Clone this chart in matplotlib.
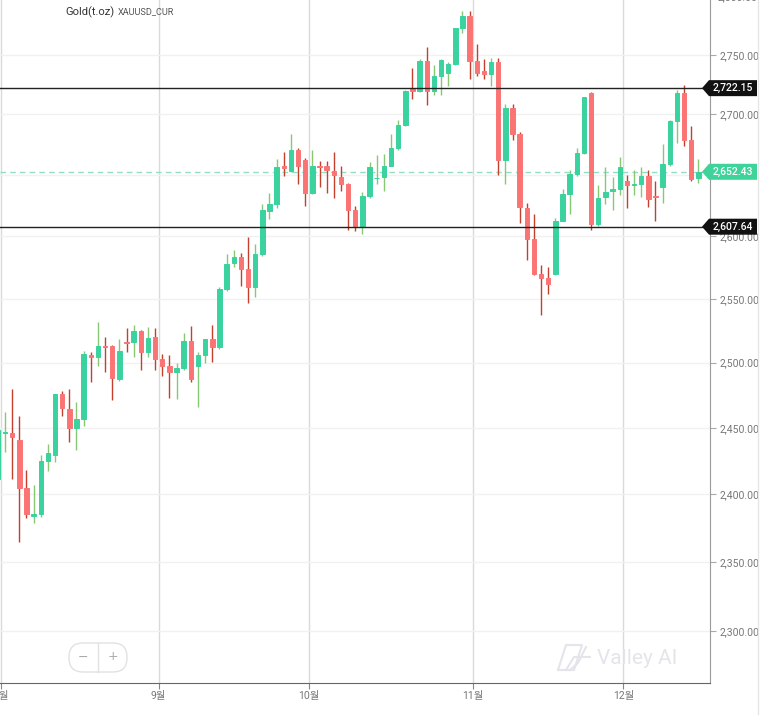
import matplotlib
matplotlib.use('Agg')
import matplotlib.pyplot as plt
import numpy as np
from matplotlib.patches import Polygon, FancyBboxPatch
from matplotlib.lines import Line2D
from matplotlib.ticker import FixedLocator, FuncFormatter, NullLocator
from matplotlib.transforms import IdentityTransform

# daily candles, 31 Jul 2024 .. 16 Dec 2024 (weekdays only)
opens = [2411, 2446, 2446, 2441, 2405, 2384, 2385, 2425, 2429, 2476,
         2464, 2450, 2457, 2506, 2504, 2513, 2513, 2487, 2516, 2516,
         2525, 2508, 2520, 2503, 2497, 2493, 2496, 2517, 2497, 2506,
         2518, 2512, 2558, 2578.5, 2583, 2574, 2559, 2586, 2620, 2626,
         2657, 2653, 2670.5, 2662, 2635, 2657, 2657, 2653, 2648, 2642,
         2621, 2608, 2632.5, 2647, 2648, 2657, 2672, 2691, 2722, 2720,
         2745, 2720, 2732, 2735, 2742.5, 2773, 2783.5, 2745, 2736.5, 2734.5,
         2744.5, 2662, 2705.5, 2684, 2623, 2598, 2569.5, 2566.5, 2570, 2612.5,
         2634, 2650.5, 2668, 2718, 2609.5, 2632, 2636.5, 2638, 2645, 2641.5,
         2642, 2649, 2632.5, 2640, 2659, 2694.5, 2718, 2679, 2647]
highs = [2455, 2462, 2480, 2459, 2418, 2407, 2429, 2438, 2476, 2478,
         2480, 2470, 2509, 2508, 2532, 2520, 2514, 2518, 2527, 2529,
         2525.5, 2528, 2527, 2507, 2506, 2500, 2523, 2528.5, 2508, 2518,
         2529, 2559.5, 2585.5, 2589, 2586.5, 2599, 2594, 2626, 2635, 2663,
         2669, 2684, 2672, 2663.5, 2670.5, 2661, 2661, 2669, 2657, 2643,
         2624.5, 2636, 2660.5, 2666, 2667.5, 2684, 2695, 2721, 2739, 2747,
         2757, 2742, 2746.5, 2744, 2773.5, 2788, 2788, 2760, 2746.5, 2748,
         2748, 2709, 2709, 2685, 2627, 2618, 2576.5, 2575.5, 2615, 2638,
         2654, 2672, 2715, 2718.5, 2641.5, 2656, 2648, 2664.5, 2650, 2654,
         2656, 2653.5, 2645, 2675, 2695, 2720.5, 2725, 2690, 2663]
lows = [2408, 2432, 2411, 2365, 2382, 2379, 2383, 2417, 2424, 2459,
        2439, 2433, 2451, 2485, 2497, 2493, 2471, 2486, 2508, 2504,
        2494, 2504, 2494, 2490, 2473, 2472, 2494, 2485, 2465.5, 2500,
        2500.5, 2510.5, 2556, 2575, 2560, 2547, 2551, 2584, 2614, 2623,
        2649, 2652, 2642, 2624.5, 2634, 2640, 2635, 2631, 2637, 2605,
        2604, 2602, 2631, 2642, 2637, 2657, 2670.5, 2690, 2713, 2719,
        2708, 2716, 2716, 2724, 2741.5, 2769, 2730, 2732, 2730, 2724,
        2650, 2642, 2679, 2611, 2581, 2569, 2537, 2554, 2569, 2612,
        2618, 2649, 2667.5, 2605, 2608, 2626, 2621, 2633, 2622.5, 2633,
        2632, 2624, 2612, 2627, 2657, 2676, 2674, 2645, 2643]
closes = [2448, 2446.5, 2443, 2405, 2385, 2385, 2425, 2431, 2476, 2465,
          2450, 2457, 2507, 2504, 2513, 2512, 2488, 2509, 2515.5, 2525,
          2508, 2519, 2503, 2497.5, 2493, 2496, 2517, 2487, 2506, 2518,
          2512, 2558, 2578, 2583, 2574, 2559, 2586, 2621, 2626, 2656,
          2655.5, 2670.5, 2657, 2635, 2657, 2656, 2654, 2650, 2642, 2621,
          2608, 2632.5, 2656, 2647.5, 2657, 2672, 2691, 2720, 2720, 2745,
          2720, 2732, 2746, 2742.5, 2773, 2783.5, 2745, 2735, 2734.5, 2744.5,
          2662, 2705.5, 2684, 2624, 2598, 2570, 2566.5, 2562, 2612.5, 2634,
          2650.5, 2668, 2714.5, 2609.5, 2631, 2636, 2638, 2656, 2641.5, 2642,
          2649, 2630, 2632, 2659, 2694.5, 2718, 2679, 2646.5, 2652.43]

month_starts = [1, 23, 44, 67, 88]
month_labels = ['8월', '9월', '10월', '11월', '12월']
price_ticks = [2300, 2350, 2400, 2450, 2500, 2550, 2600, 2650, 2700, 2750]
hidden_ticks = [2650]  # label sits under the last-price tag
levels = [2722.15, 2607.64]
last_price = 2652.43

GREEN = '#3ad29f'
RED = '#fb7474'
W, H = 760, 715

fig = plt.figure(figsize=(W / 100, H / 100), dpi=100)
ax = fig.add_axes([0, 32 / H, 710 / W, 683 / H])
ax.set_yscale('log')

o = np.array(opens)
c = np.array(closes)
x = np.arange(len(o))
up = c >= o
body_col = np.where(up, GREEN, RED)
wick_col = np.where(up, '#86c874', '#c4402c')

ax.vlines(x, lows, highs, colors=wick_col, linewidth=1, zorder=3)
ax.bar(x, np.abs(c - o), bottom=np.minimum(o, c), width=0.62,
       color=body_col, edgecolor=body_col, linewidth=0.7, zorder=4)

for lv in levels:
    ax.axhline(lv, color='#222222', linewidth=1, zorder=5)
ax.axhline(last_price, color='#92e0c2', linewidth=1, linestyle=(0, (4, 3)), zorder=2)

ax.set_xlim(0.3, 99.63)
ax.set_ylim(2263.5, 2797.6)

ax.yaxis.tick_right()
ax.yaxis.set_major_locator(FixedLocator(price_ticks))
ax.yaxis.set_minor_locator(NullLocator())
ax.yaxis.set_major_formatter(FuncFormatter(
    lambda v, p: '' if round(v) in hidden_ticks else f'{v:,.2f}'))
ax.set_xticks([m - 0.5 for m in month_starts])
ax.set_xticklabels(month_labels, family=['Roboto', 'Noto Sans CJK KR'])

ax.grid(axis='y', color='#f1f1f1', linewidth=1, zorder=0)
ax.grid(axis='x', color='#dadada', linewidth=1, zorder=0)
ax.set_axisbelow(True)

for s in ['top', 'left']:
    ax.spines[s].set_visible(False)
ax.spines['right'].set_color('#9a9a9a')
ax.spines['bottom'].set_color('#666666')

ax.tick_params(axis='y', length=4, color='#aaaaaa', labelsize=7.5,
               labelcolor='#777777', pad=3)
ax.tick_params(axis='x', length=4, color='#888888', labelsize=7.5,
               labelcolor='#777777', pad=2)
for t in ax.get_yticklabels():
    t.set_family('Roboto')

# 2,800 label sits just above the plot top, mostly cut off
y800 = ax.transData.transform((50, 2800))[1]
fig.text(718 / W, y800 / H, f'{2800:,.2f}', fontsize=7.5, family='Roboto',
         color='#777777', va='center')


# price tags on the right axis
def tag(price, color, text):
    yp = ax.transData.transform((50, price))[1]
    x0, x1, h = 702, 757, 8
    verts = [(x0, yp), (x0 + 7, yp + h), (x1, yp + h), (x1, yp - h), (x0 + 7, yp - h)]
    fig.add_artist(Polygon(verts, closed=True, fc=color, ec='none',
                           transform=IdentityTransform(), zorder=10))
    fig.text(733 / W, yp / H, text, color='white', fontsize=7.5, family='Roboto',
             weight='medium', ha='center', va='center', zorder=11)


tag(levels[0], '#111111', f'{levels[0]:,.2f}')
tag(levels[1], '#111111', f'{levels[1]:,.2f}')
tag(last_price, '#3dd39a', f'{last_price:,.2f}')

# title
fig.text(114 / W, 1 - 12 / H, 'Gold(t.oz)', fontsize=8, family='Roboto',
         color='#333333', va='center', ha='right')
fig.text(118 / W, 1 - 12 / H, 'XAUUSD_CUR', fontsize=6.6, family='Roboto',
         color='#555555', va='center')

# zoom buttons
fig.add_artist(FancyBboxPatch((69, 43), 58, 29, boxstyle='round,pad=0,rounding_size=14',
                              fc='white', ec='#e2e2e2', lw=1,
                              transform=IdentityTransform(), zorder=10))
fig.add_artist(Line2D([98, 98], [43, 72], color='#e2e2e2', lw=1,
                      transform=IdentityTransform(), zorder=11))
fig.text(83 / W, 58 / H, '−', fontsize=9, color='#aaaaaa', ha='center', va='center', zorder=12)
fig.text(113 / W, 58 / H, '+', fontsize=9, color='#aaaaaa', ha='center', va='center', zorder=12)

# watermark
wm = '#e3e5eb'
for xs, ys in [([558, 566, 582, 574, 558], [45, 70, 70, 45, 45]),
               ([566, 574, 590], [45, 58, 58]),
               ([570, 578, 586], [45, 52, 68])]:
    fig.add_artist(Line2D(xs, ys, color=wm, lw=1.5, transform=IdentityTransform()))
fig.text(597 / W, 56 / H, 'Valley AI', fontsize=15, family='Roboto', color=wm, va='center')

fig.add_artist(Line2D([758, 758], [0, H], color='#e6e6e6', lw=1, transform=IdentityTransform()))

plt.savefig('out.png', dpi=100)
